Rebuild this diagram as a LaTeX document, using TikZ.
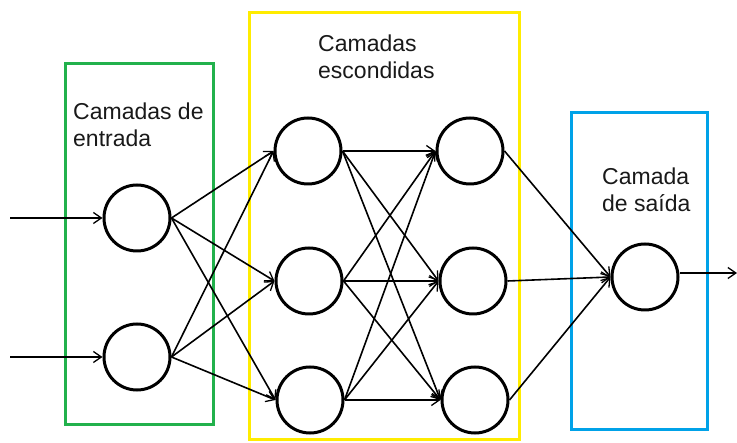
\documentclass[tikz,border=0pt]{standalone}
\usepackage{fontspec}
\setmainfont{Liberation Sans}
\usetikzlibrary{arrows.meta}
\definecolor{boxgreen}{RGB}{34,177,76}
\definecolor{boxyellow}{RGB}{255,236,0}
\definecolor{boxblue}{RGB}{0,162,232}
\begin{document}
\begin{tikzpicture}[x=1pt,y=-1pt,
  neuron/.style={circle,draw=black,line width=3pt,minimum size=66pt,inner sep=0pt},
  conn/.style={line width=1.6pt,-{Straight Barb[length=8pt,width=11pt,line width=1.3pt]}},
  layerbox/.style={line width=3pt},
  lbl/.style={anchor=base west,inner sep=0pt,font=\fontsize{23pt}{26pt}\selectfont,text=black!90}]
\useasboundingbox (0,0) rectangle (737,443);
% boxes
\draw[layerbox,boxgreen] (65,64) rectangle (213,425);
\draw[layerbox,boxyellow] (249,13) rectangle (519,440);
\draw[layerbox,boxblue] (571,113) rectangle (707,430);
% labels
\node[lbl] (tin1) at (73,120) {Camadas de};
\node[lbl] (tin2) at (73,147) {entrada};
\node[lbl] (thid1) at (318,52) {Camadas};
\node[lbl] (thid2) at (318,79) {escondidas};
\node[lbl] (tout1) at (602,185) {Camada};
\node[lbl] (tout2) at (602,212) {de saída};
% neurons
\node[neuron] (i1) at (137,218) {};
\node[neuron] (i2) at (137,357) {};
\node[neuron] (a1) at (308,151) {};
\node[neuron] (a2) at (309,281) {};
\node[neuron] (a3) at (310,400) {};
\node[neuron] (b1) at (470,151) {};
\node[neuron] (b2) at (473,281) {};
\node[neuron] (b3) at (475,400) {};
\node[neuron] (o) at (645,277) {};
% free ends
\coordinate (x1) at (10,218);
\coordinate (x2) at (10,357);
\coordinate (y) at (737,273);
% connectors
\draw[conn] (x1) -- (i1);
\draw[conn] (x2) -- (i2);
\foreach \s in {i1,i2}
  \foreach \t in {a1,a2,a3}
    \draw[conn] (\s.east) -- (\t.west);
\foreach \s in {a1,a2,a3}
  \foreach \t in {b1,b2,b3}
    \draw[conn] (\s.east) -- (\t.west);
\foreach \s in {b1,b2,b3}
  \draw[conn] (\s.east) -- (o.west);
\draw[conn] (o.east |- y) -- (y);
\end{tikzpicture}
\end{document}
